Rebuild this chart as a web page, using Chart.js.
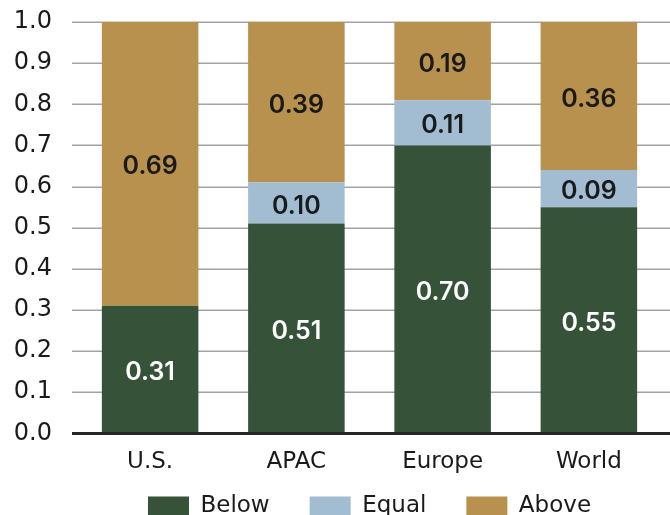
<!DOCTYPE html>
<html>
<head>
<meta charset="utf-8">
<script src="https://cdn.jsdelivr.net/npm/chart.js@4/dist/chart.umd.min.js"></script>
<style>
  html, body { margin: 0; padding: 0; background: #fff; overflow: hidden; }
  #wrap { width: 670px; height: 564px; position: relative; }
</style>
</head>
<body>
<div id="wrap"><canvas id="c"></canvas></div>
<script>
// Share of outcomes by region, stacked to 1.0
const categories = ['U.S.', 'APAC', 'Europe', 'World'];
const seriesNames = ['Below', 'Equal', 'Above'];
const belowValues = [0.31, 0.51, 0.70, 0.55];
const equalValues = [null, 0.10, 0.11, 0.09];
const aboveValues = [0.69, 0.39, 0.19, 0.36];
const yTickValues = [0.0, 0.1, 0.2, 0.3, 0.4, 0.5, 0.6, 0.7, 0.8, 0.9, 1.0];

const COLORS = ['#36533a', '#a2bcd2', '#b8914e'];
const LABEL_COLORS = ['#ffffff', '#1a1a1a', '#1a1a1a'];
const FONT = '"DejaVu Sans", "Noto Sans", sans-serif';
const LABEL_FONT = 'Inter, "Open Sans", sans-serif';

// Horizontal grid lines spanning the full width, drawn behind the bars
const gridPlugin = {
  id: 'fullGrid',
  beforeDatasetsDraw(chart) {
    const { ctx } = chart;
    const y = chart.scales.y;
    ctx.save();
    ctx.strokeStyle = '#a3a3a3';
    ctx.lineWidth = 1.5;
    yTickValues.forEach(v => {
      if (v === 0) return;
      const py = Math.round(y.getPixelForValue(v)) + 0.25;
      ctx.beginPath();
      ctx.moveTo(72, py);
      ctx.lineTo(chart.width, py);
      ctx.stroke();
    });
    ctx.restore();
  },
  afterDatasetsDraw(chart) {
    const { ctx } = chart;
    const y = chart.scales.y;
    const py = y.getPixelForValue(0);
    ctx.save();
    ctx.strokeStyle = '#262626';
    ctx.lineWidth = 3;
    ctx.beginPath();
    ctx.moveTo(72, py);
    ctx.lineTo(chart.width, py);
    ctx.stroke();
    ctx.restore();
  }
};

// Value labels centred in each bar segment
const valueLabelPlugin = {
  id: 'valueLabels',
  afterDatasetsDraw(chart) {
    const { ctx } = chart;
    ctx.save();
    ctx.font = '600 25px ' + LABEL_FONT;
    ctx.textAlign = 'center';
    ctx.textBaseline = 'middle';
    chart.data.datasets.forEach((ds, di) => {
      const meta = chart.getDatasetMeta(di);
      meta.data.forEach((bar, i) => {
        const v = ds.data[i];
        if (v == null || v === 0) return;
        ctx.fillStyle = LABEL_COLORS[di];
        ctx.fillText(v.toFixed(2), bar.x, (bar.y + bar.base) / 2 + 3);
      });
    });
    ctx.restore();
  }
};

// Pull the legend row up closer to the category labels
const legendOffsetPlugin = {
  id: 'legendOffset',
  afterLayout(chart) {
    const lg = chart.legend;
    if (!lg) return;
    const h = lg.bottom - lg.top;
    lg.top = 455;
    lg.bottom = 455 + h;
  }
};

new Chart(document.getElementById('c'), {
  type: 'bar',
  data: {
    labels: categories,
    datasets: [
      { label: seriesNames[0], data: belowValues, backgroundColor: COLORS[0] },
      { label: seriesNames[1], data: equalValues, backgroundColor: COLORS[1] },
      { label: seriesNames[2], data: aboveValues, backgroundColor: COLORS[2] }
    ]
  },
  options: {
    responsive: true,
    maintainAspectRatio: false,
    animation: false,
    layout: { padding: { top: 22, right: 8, left: 0, bottom: 0 } },
    datasets: { bar: { categoryPercentage: 1.0, barPercentage: 0.66, borderWidth: 0 } },
    scales: {
      x: {
        stacked: true,
        grid: { display: false, drawTicks: false },
        border: { display: false },
        ticks: { color: '#1a1a1a', font: { family: FONT, size: 23 }, padding: 15 }
      },
      y: {
        stacked: true,
        min: 0,
        max: 1,
        afterBuildTicks(scale) { scale.ticks = yTickValues.map(v => ({ value: v })); },
        afterFit(scale) {
          scale.width = 77;
          scale.paddingTop = 0;
          scale.paddingBottom = 0;
        },
        grid: { display: false, drawTicks: false },
        border: { display: false },
        ticks: {
          color: '#1a1a1a',
          font: { family: FONT, size: 24 },
          padding: 25,
          callback: v => Number(v).toFixed(1)
        }
      }
    },
    plugins: {
      legend: {
        position: 'bottom',
        fullSize: false,
        labels: {
          boxWidth: 41,
          boxHeight: 20,
          padding: 40,
          color: '#1a1a1a',
          font: { family: FONT, size: 23 }
        }
      },
      tooltip: { enabled: false }
    }
  },
  plugins: [gridPlugin, valueLabelPlugin, legendOffsetPlugin]
});
</script>
</body>
</html>
